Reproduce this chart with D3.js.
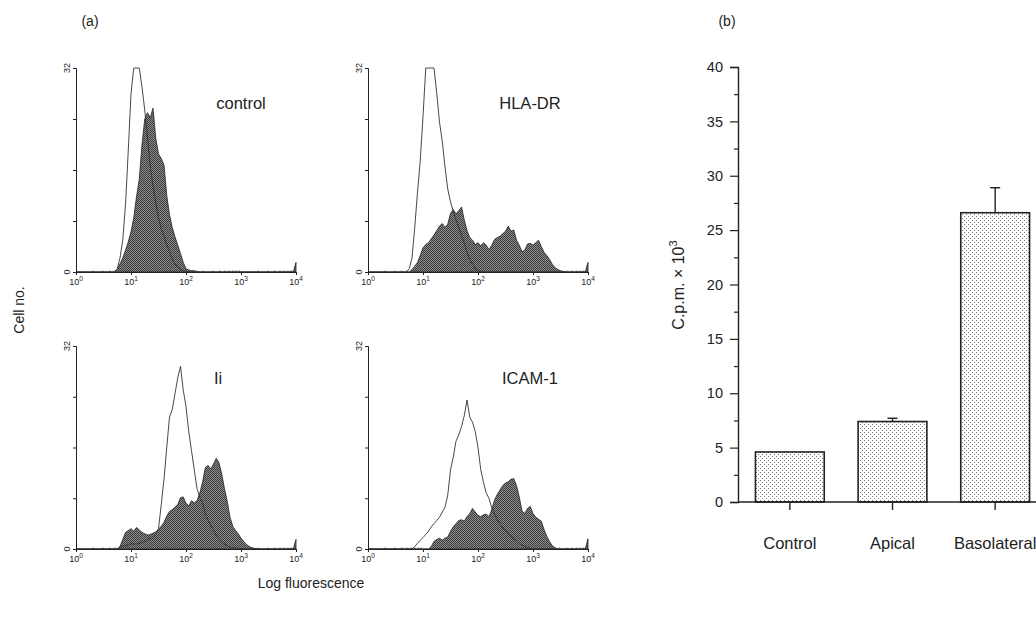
<!DOCTYPE html>
<html>
<head>
<meta charset="utf-8">
<script src="https://cdn.jsdelivr.net/npm/d3@7/dist/d3.min.js"></script>
<style>
  body { margin: 0; background: #fff; }
  svg { display: block; font-family: "Liberation Sans", Arial, sans-serif; }
</style>
</head>
<body>
<div id="chart"></div>
<script>
// histogram points: [log10 fluorescence, cell count]
// open = outline histogram, filled = shaded histogram
const controlOpen = [[0, 0], [0.70, 0], [0.75, 0.5], [0.80, 2.2], [0.85, 5], [0.90, 10.5], [0.95, 19],
  [1.00, 28], [1.05, 32], [1.10, 32], [1.15, 32], [1.20, 29], [1.25, 25.4], [1.30, 21], [1.35, 16.5],
  [1.40, 13.5], [1.45, 11], [1.50, 8.5], [1.55, 6.8], [1.60, 5.6], [1.65, 4.3], [1.70, 3.2], [1.75, 2],
  [1.80, 1.3], [1.85, 0.7], [1.90, 0.4], [1.95, 0.2], [2.00, 0.1], [2.05, 0], [4, 0]];
const controlFilled = [[0, 0], [0.70, 0], [0.75, 0.4], [0.80, 1.3], [0.85, 2.2], [0.90, 3.4], [0.95, 4.7],
  [1.00, 6.3], [1.05, 8.5], [1.10, 11.8], [1.15, 14.5], [1.20, 20], [1.25, 24], [1.30, 25], [1.35, 24.2],
  [1.40, 25.7], [1.45, 21], [1.50, 18.5], [1.55, 17.8], [1.60, 16.8], [1.65, 12], [1.70, 9], [1.75, 7],
  [1.80, 5.5], [1.85, 4.2], [1.90, 2.9], [1.95, 1.5], [2.00, 0.5], [2.05, 0.3], [2.10, 0.2], [2.15, 0.2],
  [2.20, 0.1], [2.25, 0], [3.95, 0], [4, 1.5]];
const hlaOpen = [[0, 0], [0.70, 0], [0.75, 0.5], [0.80, 2.2], [0.85, 7], [0.90, 12.5], [0.95, 17.5],
  [1.00, 24.4], [1.05, 32], [1.10, 32], [1.15, 32], [1.20, 32], [1.25, 28], [1.30, 23.5], [1.35, 20.5],
  [1.40, 16.5], [1.45, 13], [1.50, 11], [1.55, 9.5], [1.60, 8.2], [1.65, 7], [1.70, 5.8], [1.75, 4.5],
  [1.80, 3.1], [1.85, 2], [1.90, 1.2], [1.95, 0.6], [2.00, 0.3], [2.05, 0.1], [2.10, 0], [4, 0]];
const hlaFilled = [[0, 0], [0.75, 0], [0.80, 0.4], [0.85, 0.9], [0.90, 1.5], [0.95, 2.6], [1.00, 3.8],
  [1.05, 4.3], [1.10, 4.6], [1.15, 5.2], [1.20, 5.8], [1.25, 6.5], [1.30, 7.2], [1.35, 7.6], [1.40, 7.0],
  [1.45, 7.5], [1.50, 9.2], [1.55, 9.8], [1.60, 9.1], [1.65, 9.6], [1.70, 10.2], [1.75, 8.2], [1.80, 6.5],
  [1.85, 5.4], [1.90, 5], [1.95, 4.3], [2.00, 4.6], [2.05, 4.1], [2.10, 4.6], [2.15, 4.2], [2.20, 3.5],
  [2.25, 4.2], [2.30, 5.1], [2.35, 5.4], [2.40, 5.6], [2.45, 6], [2.50, 6.4], [2.55, 7.2], [2.60, 6.4],
  [2.65, 6.6], [2.70, 5], [2.75, 4.2], [2.80, 3.2], [2.85, 3.4], [2.90, 4.4], [2.95, 4.5], [3.00, 4.2],
  [3.05, 4.6], [3.10, 5], [3.15, 4], [3.20, 3.1], [3.25, 2.6], [3.30, 2], [3.35, 1.2], [3.40, 0.7],
  [3.45, 0.4], [3.50, 0.2], [3.55, 0.1], [3.60, 0], [3.95, 0], [4, 1.5]];
const iiOpen = [[0, 0], [0.75, 0], [0.80, 0.3], [0.85, 0.4], [0.90, 0.5], [0.95, 0.7], [1.00, 0.8],
  [1.05, 0.8], [1.10, 0.8], [1.15, 0.9], [1.20, 1.0], [1.25, 1.2], [1.30, 1.5], [1.35, 1.7], [1.40, 2],
  [1.45, 2.4], [1.50, 3.2], [1.55, 7], [1.60, 11], [1.65, 16], [1.70, 20.8], [1.75, 22], [1.80, 24.5],
  [1.85, 27], [1.90, 28.8], [1.95, 25], [2.00, 22.5], [2.05, 18.5], [2.10, 15.5], [2.15, 12.5], [2.20, 9.5],
  [2.25, 8.2], [2.30, 7.3], [2.35, 5.5], [2.40, 4.6], [2.45, 3.7], [2.50, 3], [2.55, 2.1], [2.60, 1.5],
  [2.65, 1.1], [2.70, 0.8], [2.75, 0.5], [2.80, 0.3], [2.85, 0.2], [2.90, 0.1], [2.95, 0], [4, 0]];
const iiFilled = [[0, 0], [0.75, 0], [0.80, 0.4], [0.85, 1.5], [0.90, 2.6], [0.95, 2.9], [1.00, 3.2],
  [1.05, 2.8], [1.10, 3.4], [1.15, 3.0], [1.20, 2.6], [1.25, 2.4], [1.30, 2.2], [1.35, 2.3], [1.40, 2.5],
  [1.45, 2.7], [1.50, 3.1], [1.55, 3.6], [1.60, 4.2], [1.65, 5.2], [1.70, 5.9], [1.75, 6.2], [1.80, 6.6],
  [1.85, 7], [1.90, 8.1], [1.95, 8.2], [2.00, 7.2], [2.05, 6.8], [2.10, 7.6], [2.15, 7.3], [2.20, 7.6],
  [2.25, 8.8], [2.30, 10.5], [2.35, 12.8], [2.40, 13.2], [2.45, 12.6], [2.50, 13.4], [2.55, 14.3],
  [2.60, 13.6], [2.65, 11.8], [2.70, 9.5], [2.75, 7.5], [2.80, 5], [2.85, 3.6], [2.90, 2.9], [2.95, 2.4],
  [3.00, 1.7], [3.05, 1.2], [3.10, 0.7], [3.15, 0.4], [3.20, 0.2], [3.25, 0.1], [3.30, 0], [3.95, 0], [4, 1.5]];
const icamOpen = [[0, 0], [0.80, 0], [0.85, 0.4], [0.90, 0.9], [0.95, 1.4], [1.00, 1.8], [1.05, 2.3],
  [1.10, 2.8], [1.15, 3.5], [1.20, 4], [1.25, 4.5], [1.30, 5], [1.35, 5.8], [1.40, 6.6], [1.45, 8.5],
  [1.50, 12.5], [1.55, 14.5], [1.60, 17], [1.65, 18], [1.70, 19.3], [1.75, 21], [1.80, 23.5], [1.85, 20.8],
  [1.90, 20], [1.95, 18.5], [2.00, 16], [2.05, 12.5], [2.10, 10.5], [2.15, 8.8], [2.20, 8], [2.25, 6.5],
  [2.30, 5.5], [2.35, 4.6], [2.40, 4], [2.45, 3.3], [2.50, 2.9], [2.55, 2.4], [2.60, 2], [2.65, 1.6],
  [2.70, 1.3], [2.75, 0.9], [2.80, 0.6], [2.85, 0.4], [2.90, 0.2], [2.95, 0.1], [3.00, 0], [4, 0]];
const icamFilled = [[0, 0], [1.10, 0], [1.15, 0.4], [1.20, 1.2], [1.25, 1.5], [1.30, 1.7], [1.35, 1.4],
  [1.40, 1.7], [1.45, 1.9], [1.50, 2.8], [1.55, 3.5], [1.60, 4], [1.65, 4.5], [1.70, 4.6], [1.75, 4.4],
  [1.80, 5.1], [1.85, 5.6], [1.90, 6.4], [1.95, 5.8], [2.00, 5.3], [2.05, 5.1], [2.10, 5.4], [2.15, 5.5],
  [2.20, 5.1], [2.25, 6.2], [2.30, 7.7], [2.35, 8.6], [2.40, 9.3], [2.45, 10], [2.50, 10.4], [2.55, 10.6],
  [2.60, 11], [2.65, 11.1], [2.70, 10], [2.75, 8.2], [2.80, 6], [2.85, 5.6], [2.90, 6.4], [2.95, 6.7],
  [3.00, 5.6], [3.05, 5], [3.10, 4.7], [3.15, 4.4], [3.20, 3.1], [3.25, 2], [3.30, 1.2], [3.35, 0.5],
  [3.40, 0.2], [3.45, 0], [3.95, 0], [4, 1.6]];

const histLabels = ['control', 'HLA-DR', 'Ii', 'ICAM-1'];
const histDecades = [0, 1, 2, 3, 4];
const histCountTicks = [0, 8, 16, 24, 32];

// panel (b)
const barCategories = ['Control', 'Apical', 'Basolateral'];
const barValues = [4.6, 7.4, 26.6];
const barErrors = [0, 0.3, 2.3];

const W = 1036, H = 617;
const svg = d3.select('#chart').append('svg')
  .attr('width', W).attr('height', H)
  .attr('viewBox', [0, 0, W, H]);

const defs = svg.append('defs');
// dark mottled fill of the flow histograms
const hatch = defs.append('pattern').attr('id', 'hatch')
  .attr('width', 2).attr('height', 2).attr('patternUnits', 'userSpaceOnUse');
hatch.append('rect').attr('width', 2).attr('height', 2).attr('fill', '#8e8e8e');
hatch.append('rect').attr('width', 1).attr('height', 1).attr('fill', '#3a3a3a');
hatch.append('rect').attr('x', 1).attr('y', 1).attr('width', 1).attr('height', 1).attr('fill', '#3a3a3a');
// light dot fill of the bars
const dots = defs.append('pattern').attr('id', 'dots')
  .attr('width', 4).attr('height', 4).attr('patternUnits', 'userSpaceOnUse');
dots.append('rect').attr('width', 4).attr('height', 4).attr('fill', '#fff');
dots.append('rect').attr('width', 1).attr('height', 1).attr('fill', '#777');
dots.append('rect').attr('x', 2).attr('y', 2).attr('width', 1).attr('height', 1).attr('fill', '#777');

// ---- (a) histograms ----
const panelW = 220;
const panels = [
  { x0: 76, top: 68, base: 272, open: controlOpen, filled: controlFilled, lx: 241, ly: 109 },
  { x0: 368, top: 68, base: 272, open: hlaOpen, filled: hlaFilled, lx: 530, ly: 109 },
  { x0: 76, top: 346, base: 549, open: iiOpen, filled: iiFilled, lx: 218, ly: 384 },
  { x0: 368, top: 346, base: 549, open: icamOpen, filled: icamFilled, lx: 530, ly: 384 }
];

const minorLogs = [];
histDecades.slice(0, 4).forEach(d => {
  for (let k = 2; k <= 9; k++) minorLogs.push(d + Math.log10(k));
});

panels.forEach((p, i) => {
  const x = d3.scaleLinear().domain([0, 4]).range([p.x0, p.x0 + panelW]);
  const y = d3.scaleLinear().domain([0, 32]).range([p.base, p.top]).clamp(true);
  const g = svg.append('g');

  const area = d3.area()
    .x(d => x(d[0]))
    .y0(p.base)
    .y1(d => y(d[1]));
  g.append('path')
    .attr('d', area(p.filled))
    .attr('fill', 'url(#hatch)')
    .attr('stroke', '#222')
    .attr('stroke-width', 0.8);

  const line = d3.line()
    .x(d => x(d[0]))
    .y(d => y(d[1]));
  g.append('path')
    .attr('d', line(p.open))
    .attr('fill', 'none')
    .attr('stroke', '#333')
    .attr('stroke-width', 0.9);

  // x axis
  const xAxis = g.append('g').attr('transform', `translate(0,${p.base})`)
    .call(d3.axisBottom(x).tickValues(histDecades).tickSize(3).tickFormat(''));
  xAxis.select('.domain').attr('stroke', '#222');
  xAxis.selectAll('.tick line').attr('stroke', '#222');
  g.append('g').attr('transform', `translate(0,${p.base})`)
    .call(d3.axisTop(x).tickValues(minorLogs).tickSize(1.5).tickFormat(''))
    .call(a => a.select('.domain').remove())
    .selectAll('.tick line').attr('stroke', '#444');

  const xl = g.selectAll('.declab').data(histDecades).join('text')
    .attr('x', d => x(d))
    .attr('y', p.base + 13)
    .attr('text-anchor', 'middle')
    .attr('font-size', 9)
    .attr('fill', '#222');
  xl.append('tspan').text('10');
  xl.append('tspan').attr('dy', -4).attr('font-size', 6.5).text(d => d);

  // y axis
  const yAxis = g.append('g').attr('transform', `translate(${p.x0},0)`)
    .call(d3.axisLeft(y).tickValues(histCountTicks).tickSize(3).tickFormat(''));
  yAxis.select('.domain').attr('stroke', '#222');
  yAxis.selectAll('.tick line').attr('stroke', '#222');
  [0, 32].forEach(v => {
    g.append('text')
      .attr('transform', `translate(${p.x0 - 6},${y(v)}) rotate(-90)`)
      .attr('text-anchor', 'middle')
      .attr('font-size', 9)
      .attr('fill', '#222')
      .text(v);
  });

  g.append('text')
    .attr('x', p.lx).attr('y', p.ly)
    .attr('text-anchor', 'middle')
    .attr('font-size', 16.5)
    .attr('fill', '#222')
    .text(histLabels[i]);
});

svg.append('text').attr('x', 90).attr('y', 26)
  .attr('text-anchor', 'middle').attr('font-size', 14).attr('fill', '#222').text('(a)');
svg.append('text')
  .attr('transform', 'translate(24,310) rotate(-90)')
  .attr('text-anchor', 'middle').attr('font-size', 14).attr('fill', '#222').text('Cell no.');
svg.append('text').attr('x', 311).attr('y', 588)
  .attr('text-anchor', 'middle').attr('font-size', 14).attr('fill', '#222').text('Log fluorescence');

// ---- (b) bar chart ----
const bx0 = 738;
const yBar = d3.scaleLinear().domain([0, 40]).range([502, 67]);
const xBar = d3.scaleBand().domain(barCategories)
  .range([bx0, 1047]).paddingInner(0.33).paddingOuter(0.17);
const gb = svg.append('g');

const yMajor = d3.range(0, 41, 5);
const yMinor = d3.range(2.5, 40, 5);
const yAx = gb.append('g').attr('transform', `translate(${bx0},0)`)
  .call(d3.axisLeft(yBar).tickValues(yMajor).tickSize(8).tickPadding(7));
yAx.select('.domain').attr('stroke', '#222').attr('stroke-width', 1.4);
yAx.selectAll('.tick line').attr('stroke', '#222').attr('stroke-width', 1.2);
yAx.selectAll('.tick text').attr('font-size', 14.5).attr('fill', '#222')
  .attr('font-family', '"Liberation Sans", Arial, sans-serif');
gb.append('g').attr('transform', `translate(${bx0},0)`)
  .call(d3.axisLeft(yBar).tickValues(yMinor).tickSize(4).tickFormat(''))
  .call(a => a.select('.domain').remove())
  .selectAll('.tick line').attr('stroke', '#222').attr('stroke-width', 1.2);

// bars
gb.selectAll('.bar').data(barCategories).join('rect')
  .attr('x', d => xBar(d))
  .attr('y', (d, i) => yBar(barValues[i]))
  .attr('width', xBar.bandwidth())
  .attr('height', (d, i) => yBar(0) - yBar(barValues[i]))
  .attr('fill', 'url(#dots)')
  .attr('stroke', '#222')
  .attr('stroke-width', 1.6);

// error bars (upper only)
barCategories.forEach((c, i) => {
  if (!barErrors[i]) return;
  const cx = xBar(c) + xBar.bandwidth() / 2;
  const top = yBar(barValues[i] + barErrors[i]);
  gb.append('line').attr('x1', cx).attr('x2', cx)
    .attr('y1', yBar(barValues[i])).attr('y2', top)
    .attr('stroke', '#222').attr('stroke-width', 1.4);
  gb.append('line').attr('x1', cx - 5).attr('x2', cx + 5)
    .attr('y1', top).attr('y2', top)
    .attr('stroke', '#222').attr('stroke-width', 1.4);
});

// x axis
gb.append('line').attr('x1', bx0).attr('x2', W)
  .attr('y1', yBar(0)).attr('y2', yBar(0))
  .attr('stroke', '#222').attr('stroke-width', 1.6);
gb.selectAll('.xtick').data(barCategories).join('line')
  .attr('x1', d => xBar(d) + xBar.bandwidth() / 2)
  .attr('x2', d => xBar(d) + xBar.bandwidth() / 2)
  .attr('y1', yBar(0)).attr('y2', yBar(0) + 8)
  .attr('stroke', '#222').attr('stroke-width', 1.4);
gb.selectAll('.xlab').data(barCategories).join('text')
  .attr('x', d => xBar(d) + xBar.bandwidth() / 2)
  .attr('y', 549)
  .attr('text-anchor', 'middle')
  .attr('font-size', 16.5)
  .attr('fill', '#222')
  .text(d => d);

const yl = gb.append('text')
  .attr('transform', 'translate(684,285) rotate(-90)')
  .attr('text-anchor', 'middle').attr('font-size', 16).attr('fill', '#222');
yl.append('tspan').text('C.p.m. \u00d7 10');
yl.append('tspan').attr('dy', -7).attr('font-size', 11).text('3');

svg.append('text').attr('x', 727).attr('y', 26)
  .attr('text-anchor', 'middle').attr('font-size', 14).attr('fill', '#222').text('(b)');
</script>
</body>
</html>
